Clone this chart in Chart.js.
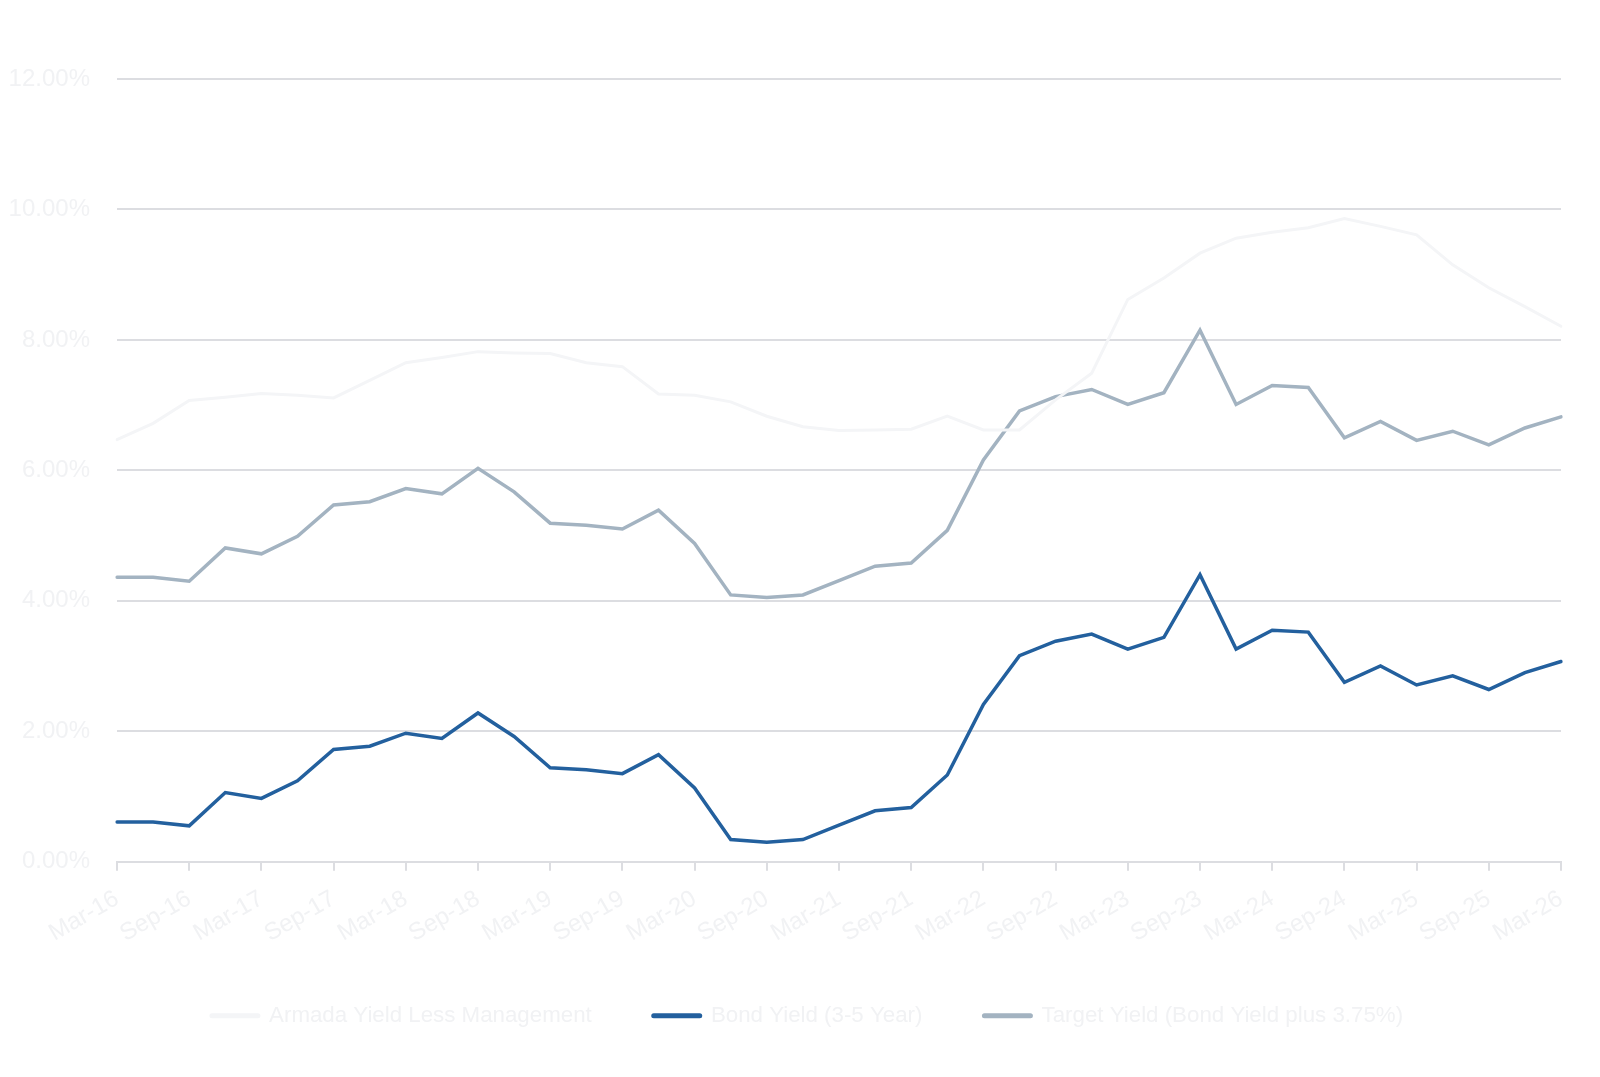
<!DOCTYPE html>
<html>
<head>
<meta charset="utf-8">
<title>Yield chart</title>
<script src="https://cdn.jsdelivr.net/npm/chart.js@4.4.1/dist/chart.umd.min.js"></script>
<style>
    html, body { margin: 0; padding: 0; background: #ffffff; }
    #chartContainer { width: 1600px; height: 1077px; position: relative; }
</style>
</head>
<body>
<div id="chartContainer"><canvas id="yieldChart"></canvas></div>
<script>
// Données (trimestrielles, mars 2016 -> mars 2026)
const quarters = [
    "Mar-16", "Jun-16", "Sep-16", "Dec-16",
    "Mar-17", "Jun-17", "Sep-17", "Dec-17",
    "Mar-18", "Jun-18", "Sep-18", "Dec-18",
    "Mar-19", "Jun-19", "Sep-19", "Dec-19",
    "Mar-20", "Jun-20", "Sep-20", "Dec-20",
    "Mar-21", "Jun-21", "Sep-21", "Dec-21",
    "Mar-22", "Jun-22", "Sep-22", "Dec-22",
    "Mar-23", "Jun-23", "Sep-23", "Dec-23",
    "Mar-24", "Jun-24", "Sep-24", "Dec-24",
    "Mar-25", "Jun-25", "Sep-25", "Dec-25",
    "Mar-26"
];

const armadaYield = [
    6.47, 6.72, 7.07, 7.12, 7.18, 7.15, 7.11, 7.38, 7.65, 7.73,
    7.82, 7.80, 7.79, 7.65, 7.59, 7.17, 7.15, 7.05, 6.83, 6.67,
    6.61, 6.62, 6.63, 6.83, 6.62, 6.62, 7.08, 7.49, 8.62, 8.95,
    9.33, 9.56, 9.65, 9.72, 9.86, 9.74, 9.61, 9.15, 8.80, 8.51,
    8.21
];

const bondYield = [
    0.61, 0.61, 0.55, 1.06, 0.97, 1.24, 1.72, 1.77, 1.97, 1.89,
    2.28, 1.92, 1.44, 1.41, 1.35, 1.64, 1.13, 0.34, 0.30, 0.34,
    0.56, 0.78, 0.83, 1.33, 2.41, 3.16, 3.38, 3.49, 3.26, 3.44,
    4.40, 3.26, 3.55, 3.52, 2.75, 3.00, 2.71, 2.85, 2.64, 2.90,
    3.07
];

const targetYield = [
    4.36, 4.36, 4.30, 4.81, 4.72, 4.99, 5.47, 5.52, 5.72, 5.64,
    6.03, 5.67, 5.19, 5.16, 5.10, 5.39, 4.88, 4.09, 4.05, 4.09,
    4.31, 4.53, 4.58, 5.08, 6.16, 6.91, 7.13, 7.24, 7.01, 7.19,
    8.15, 7.01, 7.30, 7.27, 6.50, 6.75, 6.46, 6.60, 6.39, 6.65,
    6.82
];

const yTicks = [0, 2, 4, 6, 8, 10, 12];

const textColor = "#f1f2f4";
const gridColor = "#dcdde1";
const fontFamily = "'Liberation Sans', Arial, sans-serif";

// Décale la légende vers la droite (centrée sur la page dans l'original)
const legendShift = {
    id: "legendShift",
    afterLayout(chart) {
        if (chart.legend) {
            chart.legend.left += 24;
            chart.legend.right += 24;
        }
    },
};

const ctx = document.getElementById("yieldChart").getContext("2d");

new Chart(ctx, {
    type: "line",
    data: {
        labels: quarters,
        datasets: [
            {
                label: "Armada Yield Less Management",
                data: armadaYield,
                borderColor: "#f4f5f7",
                borderWidth: 3,
                borderCapStyle: "round",
                pointRadius: 0,
                tension: 0,
            },
            {
                label: "Bond Yield (3-5 Year)",
                data: bondYield,
                borderColor: "#23609e",
                borderWidth: 3.5,
                borderCapStyle: "round",
                pointRadius: 0,
                tension: 0,
            },
            {
                label: "Target Yield (Bond Yield plus 3.75%)",
                data: targetYield,
                borderColor: "#a3b3c1",
                borderWidth: 3.5,
                borderCapStyle: "round",
                pointRadius: 0,
                tension: 0,
            },
        ],
    },
    options: {
        responsive: true,
        maintainAspectRatio: false,
        animation: false,
        layout: {
            padding: { top: 79, left: 6, right: 39, bottom: 40 },
        },
        plugins: {
            tooltip: { enabled: false },
            legend: {
                position: "bottom",
                labels: {
                    color: textColor,
                    font: { family: fontFamily, size: 22.3 },
                    usePointStyle: true,
                    pointStyle: "line",
                    pointStyleWidth: 46,
                    padding: 62,
                    generateLabels(chart) {
                        const items = Chart.defaults.plugins.legend.labels.generateLabels(chart);
                        items.forEach((it) => { it.lineWidth = 5; it.lineCap = "round"; });
                        return items;
                    },
                },
            },
        },
        scales: {
            x: {
                afterFit(scale) {
                    // hauteur fixe : les étiquettes peuvent déborder vers la légende
                    scale.height = 81;
                },
                grid: {
                    drawOnChartArea: false,
                    drawTicks: true,
                    tickLength: 9,
                    color: gridColor,
                    lineWidth: 2,
                },
                border: { display: true, color: gridColor, width: 2 },
                ticks: {
                    color: textColor,
                    font: { family: fontFamily, size: 24 },
                    autoSkip: false,
                    minRotation: 30,
                    maxRotation: 30,
                    padding: 14,
                    callback(value, index) {
                        return index % 2 === 0 ? quarters[index] : null;
                    },
                },
            },
            y: {
                min: yTicks[0],
                max: yTicks[yTicks.length - 1],
                afterBuildTicks(axis) {
                    axis.ticks = yTicks.map((v) => ({ value: v }));
                },
                afterFit(scale) {
                    scale.width = 111;
                },
                grid: { color: gridColor, lineWidth: 2, drawTicks: false },
                border: { display: false },
                ticks: {
                    color: textColor,
                    font: { family: fontFamily, size: 24 },
                    padding: 27,
                    callback: (v) => v.toFixed(2) + "%",
                },
            },
        },
    },
    plugins: [legendShift],
});
</script>
</body>
</html>
